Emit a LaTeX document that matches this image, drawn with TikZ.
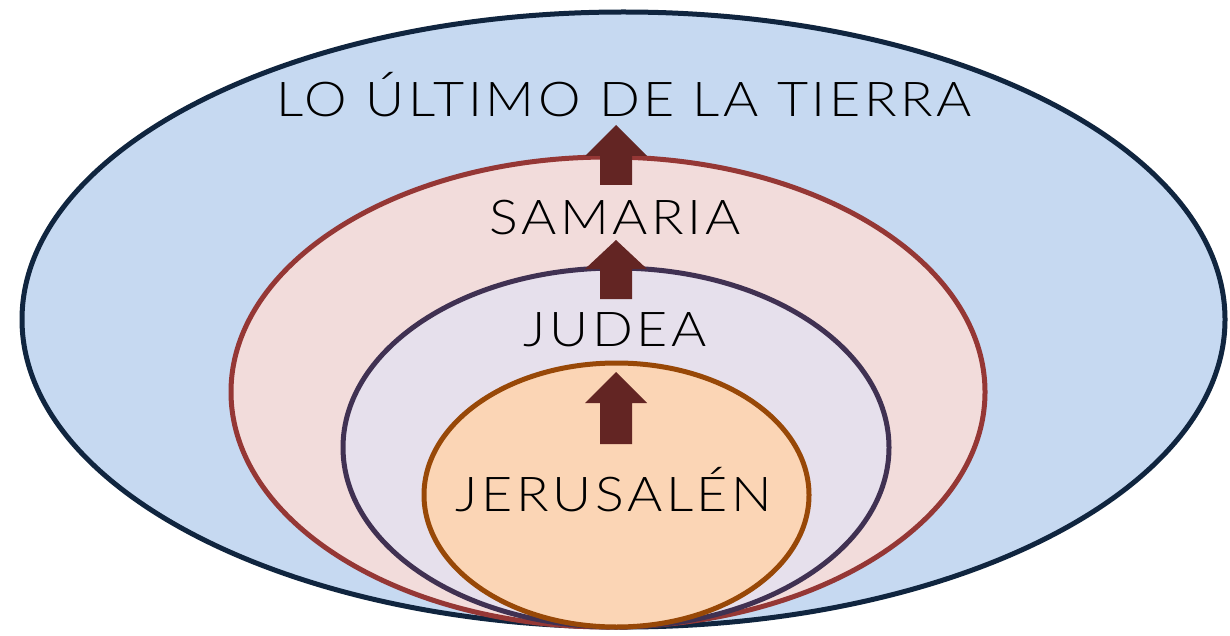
\documentclass[tikz,border=0pt]{standalone}
\usepackage{fontspec}
\setmainfont{Lato}[UprightFont=* Light]
\usetikzlibrary{shapes.geometric}
\definecolor{outerfill}{HTML}{C6D9F1}
\definecolor{outerline}{HTML}{10253F}
\definecolor{samfill}{HTML}{F2DCDB}
\definecolor{samline}{HTML}{953735}
\definecolor{judfill}{HTML}{E6E0EC}
\definecolor{judline}{HTML}{403152}
\definecolor{jerfill}{HTML}{FBD5B5}
\definecolor{jerline}{HTML}{984807}
\definecolor{arrowcol}{HTML}{632523}
\begin{document}
\begin{tikzpicture}[x=1pt,y=-1pt,
  region/.style={ellipse,inner sep=0pt,outer sep=0pt,line width=5pt},
  label/.style={anchor=base,inner sep=0pt,font=\fontsize{48}{50}\selectfont\addfontfeature{FakeStretch=1.12,LetterSpace=7.5}}]
\useasboundingbox[fill=white] (0,0) rectangle (1230,636);
\node[region,draw=outerline,fill=outerfill,minimum width=1203pt,minimum height=615pt] (outer) at (623.5,319.5) {};
\node[region,draw=samline,fill=samfill,minimum width=754pt,minimum height=470pt] (sam) at (608,392) {};
\node[region,draw=judline,fill=judfill,minimum width=546pt,minimum height=359pt] (jud) at (616,447.5) {};
\node[region,draw=jerline,fill=jerfill,minimum width=385pt,minimum height=264pt] (jer) at (616.5,495) {};
% arrows
\foreach \tip/\base/\bot in {125/156/185, 240/269/299, 372/403/444}{
  \fill[arrowcol] (616,\tip) -- (647,\base) -- (632,\base) -- (632,\bot) -- (600,\bot) -- (600,\base) -- (585,\base) -- cycle;
}
\node[label] (tl) at (624,117) {LO ÚLTIMO DE LA TIERRA};
\node[label] (ts) at (615,235) {SAMARIA};
\node[label] (tj) at (615,346) {JUDEA};
\node[label] (tr) at (614,511) {JERUSALÉN};
\end{tikzpicture}
\end{document}
